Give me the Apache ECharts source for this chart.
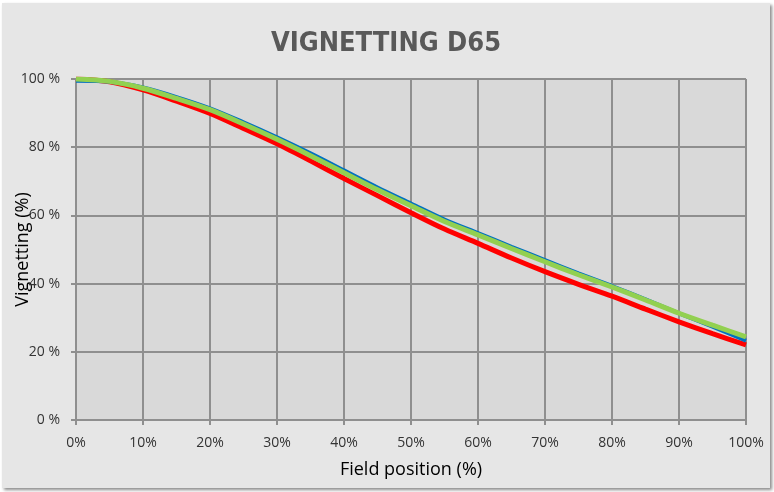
<!DOCTYPE html>
<html>
<head>
<meta charset="utf-8">
<script src="https://cdn.jsdelivr.net/npm/echarts@6/dist/echarts.min.js"></script>
<style>
  html, body { margin: 0; padding: 0; background: #ffffff; }
  #chart {
    position: absolute; left: 2px; top: 3px;
    width: 768px; height: 485px;
    background: #e6e6e6;
    box-shadow: 2px 2px 3px #8a8a8a;
  }
</style>
</head>
<body>
<div id="chart"></div>
<script>
// field position (%)
const positions = [0, 5, 10, 15, 20, 25, 30, 35, 40, 45, 50, 55, 60, 65, 70, 75, 80, 85, 90, 95, 100];
// vignetting (%) per channel
const redValues = [100, 99.2, 96.8, 93.5, 89.9, 85.5, 81.0, 76.0, 70.8, 65.8, 60.8, 56.0, 51.8, 47.5, 43.5, 39.8, 36.3, 32.5, 28.8, 25.3, 22.0];
const blueValues = [99.5, 99.2, 97.5, 94.7, 91.4, 87.3, 82.9, 78.2, 73.2, 68.2, 63.5, 58.8, 54.8, 50.8, 46.9, 43.0, 39.3, 35.4, 31.3, 27.4, 23.3];
const greenValues = [100, 99.3, 97.3, 94.3, 91.0, 86.8, 82.3, 77.5, 72.5, 67.5, 62.8, 58.2, 54.3, 50.3, 46.4, 42.6, 39.0, 35.2, 31.3, 27.8, 24.4];
const xTicks = [0, 10, 20, 30, 40, 50, 60, 70, 80, 90, 100];
const yTicks = [0, 20, 40, 60, 80, 100];

const pair = (vals) => positions.map((p, i) => [p, vals[i]]);

const chart = echarts.init(document.getElementById("chart"));

const gridLine = { lineStyle: { color: "#8f8f8f", width: 2 } };
const labelFont = { fontFamily: "Open Sans", fontSize: 14, color: "#333333" };

const options = {
  animation: false,
  title: {
    text: "VIGNETTING D65",
    left: "center",
    top: 22,
    textStyle: {
      fontFamily: "DejaVu Sans Condensed",
      fontWeight: "bold",
      fontSize: 27,
      color: "#595959",
    },
  },
  grid: {
    left: 74, right: 24, top: 76, bottom: 68,
    outerBoundsMode: "none",
    show: true, backgroundColor: "#d9d9d9", borderWidth: 0,
  },
  xAxis: {
    type: "value",
    min: xTicks[0],
    max: xTicks[xTicks.length - 1],
    interval: 10,
    name: "Field position (%)",
    nameLocation: "middle",
    nameGap: 41,
    nameMoveOverlap: false,
    nameTextStyle: { fontFamily: "Open Sans", fontSize: 18, color: "#000000" },
    axisLine: { lineStyle: { color: "#8f8f8f", width: 2 } },
    axisTick: { show: true, length: 5, lineStyle: { color: "#8f8f8f", width: 2 } },
    axisLabel: { ...labelFont, formatter: "{value}%", margin: 16 },
    splitLine: gridLine,
  },
  yAxis: {
    type: "value",
    min: yTicks[0],
    max: yTicks[yTicks.length - 1],
    interval: 20,
    name: "Vignetting (%)",
    nameLocation: "middle",
    nameGap: 44,
    nameMoveOverlap: false,
    nameTextStyle: { fontFamily: "Open Sans", fontSize: 18, color: "#000000" },
    axisLine: { show: true, lineStyle: { color: "#8f8f8f", width: 2 } },
    axisTick: { show: true, length: 5, lineStyle: { color: "#8f8f8f", width: 2 } },
    axisLabel: { ...labelFont, formatter: "{value} %", margin: 16 },
    splitLine: gridLine,
  },
  series: [
    {
      name: "Red",
      type: "line",
      data: pair(redValues),
      smooth: 0.3,
      symbol: "none",
      lineStyle: { color: "#ff0000", width: 5 },
    },
    {
      name: "Blue",
      type: "line",
      data: pair(blueValues),
      smooth: 0.3,
      symbol: "none",
      lineStyle: { color: "#0070c0", width: 4 },
    },
    {
      name: "Green",
      type: "line",
      data: pair(greenValues),
      smooth: 0.3,
      symbol: "none",
      lineStyle: { color: "#92d050", width: 5 },
    },
  ],
};

chart.setOption(options);
</script>
</body>
</html>
